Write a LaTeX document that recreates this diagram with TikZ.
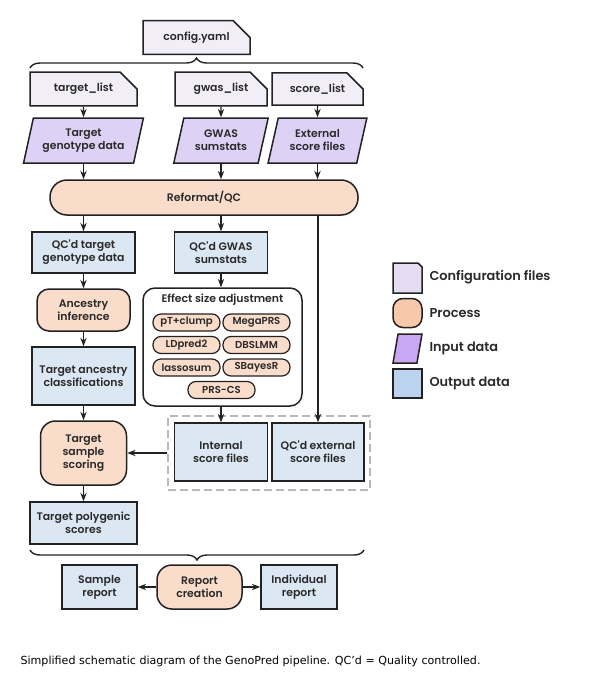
\documentclass[tikz,border=0pt]{standalone}
\usepackage{fontspec}
\setmainfont{Poppins}
\newfontfamily\popfont{Poppins}[BoldFont={Poppins SemiBold}]
\newfontfamily\capfont{DejaVu Sans}
\usetikzlibrary{arrows.meta}
\usetikzlibrary{shapes.geometric, shapes.misc}
\usetikzlibrary{decorations.pathreplacing}
\definecolor{edge}{HTML}{222222}
\definecolor{cfgfill}{HTML}{F1EEF8}
\definecolor{infill}{HTML}{DDD2F6}
\definecolor{procfill}{HTML}{FADCCA}
\definecolor{outfill}{HTML}{DCE7F4}
\definecolor{legcfg}{HTML}{E5DCF2}
\definecolor{legin}{HTML}{C8A8F3}
\definecolor{legproc}{HTML}{F7C8A9}
\definecolor{legout}{HTML}{BBD3EE}
\definecolor{ink}{HTML}{2A2A2A}

\begin{document}
\begin{tikzpicture}[
    x=1pt, y=-1pt,
    >=Stealth,
    font=\popfont\bfseries\fontsize{10.9}{13}\selectfont,
    text=ink,
    box/.style={draw=edge, line width=1.5pt, align=center, inner sep=2pt},
    cfgnode/.style={box, chamfered rectangle, chamfered rectangle corners=north east,
                    chamfered rectangle xsep=9pt, chamfered rectangle ysep=9pt, fill=cfgfill},
    innode/.style={box, trapezium, trapezium left angle=73, trapezium right angle=107,
                   trapezium stretches=true, fill=infill},
    procnode/.style={box, rectangle, rounded corners=12pt, fill=procfill},
    outnode/.style={box, rectangle, fill=outfill},
    pill/.style={draw=edge, line width=1.2pt, rounded corners=8pt, fill=procfill,
                 minimum width=67, minimum height=17, inner sep=1pt,
                 font=\popfont\bfseries\fontsize{10.1}{11}\selectfont},
    flow/.style={->, line width=1.2pt, draw=edge},
    curly/.style={draw=edge, line width=1.4pt, decorate,
                  decoration={brace, amplitude=10pt}},
    legtext/.style={anchor=west, font=\popfont\bfseries\fontsize{12.9}{15}\selectfont},
    caption/.style={anchor=west, text=black, font=\capfont\fontsize{11.1}{13}\selectfont},
]
\useasboundingbox (0,0) rectangle (599,680);

\def\ca{83.5}
\def\cb{221}
\def\cc{317.5}

% ── Configuration ──
\node[cfgnode, minimum width=107, minimum height=31] (config) at (196.5,37.5) {config.yaml};
\draw[curly] (30,68) -- (363,68);
\node[cfgnode, minimum width=107, minimum height=32] (tlist) at (\ca,89) {target\_list};
\node[cfgnode, minimum width=92, minimum height=32] (glist) at (\cb,89) {gwas\_list};
\node[cfgnode, minimum width=91, minimum height=32] (slist) at (\cc,89) {score\_list};

% ── Input data ──
\node[innode, minimum width=120, minimum height=45] (tgeno) at (\ca,140.5) {Target\\genotype data};
\node[innode, minimum width=95, minimum height=45] (gwas) at (\cb,140.5) {GWAS\\sumstats};
\node[innode, minimum width=99, minimum height=45] (ext) at (\cc,140.5) {External\\score files};
\draw[flow] (tlist) -- (tgeno);
\draw[flow] (glist) -- (gwas);
\draw[flow] (slist) -- (ext);

\node[procnode, minimum width=308, minimum height=35, rounded corners=17pt] (reqc) at (204,197.5) {Reformat/QC};
\draw[flow] (tgeno.south) -- (tgeno.south |- reqc.north);
\draw[flow] (gwas.south) -- (gwas.south |- reqc.north);
\draw[flow] (ext.south) -- (ext.south |- reqc.north);

% ── Target branch ──
\node[outnode, minimum width=103, minimum height=41] (tqc) at (\ca,252.5) {QC'd target\\genotype data};
\node[procnode, minimum width=93, minimum height=42] (anc) at (\ca,310) {Ancestry\\inference};
\node[outnode, minimum width=103, minimum height=58] (tac) at (\ca,376) {Target ancestry\\classifications};
\node[procnode, minimum width=86, minimum height=64, rounded corners=15pt] (tss) at (\ca,453) {Target\\sample\\scoring};
\node[outnode, minimum width=107, minimum height=42] (tps) at (\ca,523) {Target polygenic\\scores};
\draw[flow] (tqc |- reqc.south) -- (tqc);
\draw[flow] (tqc) -- (anc);
\draw[flow] (anc) -- (tac);
\draw[flow] (tac) -- (tss);
\draw[flow] (tss) -- (tps);

% ── GWAS branch ──
\node[outnode, minimum width=93, minimum height=41] (gqc) at (\cb,252.5) {QC'd GWAS\\sumstats};
\node[box, rounded corners=12pt, fill=white, minimum width=159, minimum height=118] (esa) at (222.5,347) {};
\node (esatitle) at (222.5,300) {Effect size adjustment};
\node[pill] (ptc) at (186.5,322.5) {pT+clump};
\node[pill] (mega) at (256.5,322.5) {MegaPRS};
\node[pill] (ldp) at (186.5,345) {LDpred2};
\node[pill] (dbs) at (256.5,345) {DBSLMM};
\node[pill] (lasso) at (186.5,367.5) {lassosum};
\node[pill] (sbr) at (256.5,367.5) {SBayesR};
\node[pill] (prscs) at (221.5,390) {PRS-CS};
\draw[flow] (gqc |- reqc.south) -- (gqc);
\draw[flow] (gqc) -- (gqc |- esa.north);

% ── Score files ──
\node[draw=gray!55, dashed, dash pattern=on 8pt off 4pt, line width=1.4pt,
      minimum width=202, minimum height=74] (scorebox) at (269,453) {};
\node[outnode, minimum width=93, minimum height=58] (int) at (\cb,452) {Internal\\score files};
\node[outnode, minimum width=92, minimum height=58] (qext) at (318,452) {QC'd external\\score files};
\draw[flow] (int |- esa.south) -- (int);
\draw[flow] (qext |- reqc.south) -- (qext);
\draw[flow] (scorebox.west) -- (tss.east);

% ── Reports ──
\draw[curly] (364,550) -- (30,550);
\node[procnode, minimum width=85, minimum height=44, rounded corners=15pt] (rc) at (199.5,587) {Report\\creation};
\node[outnode, minimum width=75, minimum height=44] (sr) at (99.5,587) {Sample\\report};
\node[outnode, minimum width=76, minimum height=44] (ir) at (299,587) {Individual\\report};
\draw[flow] (rc) -- (sr);
\draw[flow] (rc) -- (ir);

% ── Legend ──
\node[box, chamfered rectangle, chamfered rectangle corners=north east,
      chamfered rectangle xsep=7pt, chamfered rectangle ysep=7pt, fill=legcfg,
      minimum width=29, minimum height=30] (lcfg) at (407.5,278) {};
\node[box, rounded corners=10pt, fill=legproc, minimum width=29, minimum height=29] (lproc) at (407.5,313) {};
\node[box, trapezium, trapezium left angle=75, trapezium right angle=105,
      trapezium stretches=true, fill=legin, minimum width=29, minimum height=29] (lin) at (407.5,348.5) {};
\node[box, fill=legout, minimum width=29, minimum height=29] (lout) at (407.5,383.5) {};
\node[legtext] (tcfg) at (426,277.5) {Configuration files};
\node[legtext] (tproc) at (426,313) {Process};
\node[legtext] (tin) at (426,348) {Input data};
\node[legtext] (tout) at (426,383) {Output data};

\node[caption] (cap) at (17,661) {Simplified schematic diagram of the GenoPred pipeline. QC’d = Quality controlled.};
\end{tikzpicture}
\end{document}
